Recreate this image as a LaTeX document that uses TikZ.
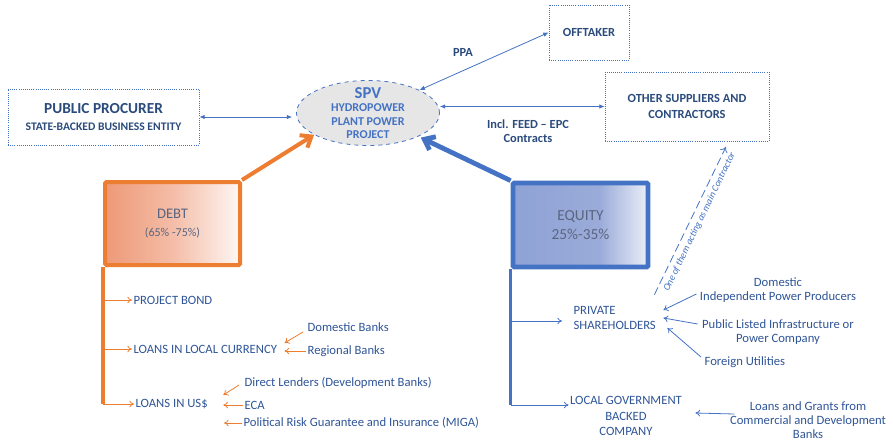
\documentclass[tikz,border=0pt]{standalone}
\usepackage{fontspec}
\setmainfont{Carlito}
\usetikzlibrary{arrows.meta,shapes.geometric,positioning,calc}
\definecolor{dblue}{HTML}{2A4B7C}
\definecolor{mblue}{HTML}{2F5597}
\definecolor{lblue}{HTML}{4472C4}
\definecolor{orng}{HTML}{ED7D31}
\definecolor{salmon}{HTML}{EE9977}
\definecolor{eqfill}{HTML}{8FA2D5}
\definecolor{spvgray}{HTML}{E7E6E6}
\definecolor{boxtxt}{HTML}{5A6580}
\def\px{0.75pt}
\newcommand{\fs}[1]{\fontsize{#1}{#1}\selectfont}
\pgfdeclarehorizontalshading{eqshade}{100bp}{color(0bp)=(eqfill); color(25bp)=(eqfill); color(57bp)=(eqfill!90!white); color(75bp)=(eqfill!18!white); color(100bp)=(eqfill!18!white)}
\pgfdeclarehorizontalshading{debtshade}{100bp}{color(0bp)=(salmon); color(25bp)=(salmon); color(50bp)=(salmon!65!white); color(75bp)=(salmon!8!white); color(100bp)=(salmon!8!white)}
\tikzset{
  partybox/.style={draw=lblue, densely dotted, line width=0.6pt, align=center, text=dblue, font=\bfseries\fs{9.3}, inner sep=0pt},
  sharebox/.style={line width=#1, rounded corners=1pt, align=center, text=boxtxt, minimum width=135*\px, inner sep=0pt},
  thinarrow/.style={draw=lblue, line width=0.6pt, {Latex[length=4pt,width=3.5pt]}-{Latex[length=4pt,width=3.5pt]}},
  subarrow/.style={line width=0.6pt, -{To[length=3.5pt,width=5pt]}},
  fatarrow/.style={line width=#1, -{Straight Barb[length=7pt,width=11pt]}},
  item/.style={text=mblue, font=\fs{9.5}, inner sep=1pt},
  deal/.style={text=dblue, font=\bfseries\fs{9.3}, align=center}
}
\begin{document}
\begin{tikzpicture}[x=0.75pt,y=-0.75pt]
	\useasboundingbox (0,0) rectangle (893,443);
	% parties round the SPV
	\node[partybox, minimum width=191*\px, minimum height=56*\px] (proc) at (103.5,117) {{\fs{11.5}PUBLIC PROCURER}\\[3pt]{\fs{8.7}STATE-BACKED BUSINESS ENTITY}};
	\node[partybox, minimum width=80*\px, minimum height=55*\px] (offt) at (589,32.5) {OFFTAKER};
	\node[partybox, minimum width=164*\px, minimum height=69*\px] (supp) at (687,106.5) {OTHER SUPPLIERS AND\\[2pt]CONTRACTORS};
	\node[ellipse, draw=lblue, dashed, line width=0.6pt, fill=spvgray, minimum width=143*\px, minimum height=65*\px, inner sep=0pt] (spv) at (368,113) {};
	\node[align=center, text=lblue, font=\bfseries\fs{9}] (spvlbl) at (368,113) {{\fs{12.5}SPV}\\[1pt]HYDROPOWER\\[1pt]PLANT POWER\\[1pt]PROJECT};
	\draw[thinarrow] (proc.east) -- ([xshift=-4*\px]proc.east -| spv.west);
	\draw[thinarrow] (spv.24) -- (offt.west);
	\draw[thinarrow] (spv.east |- supp.west) -- (supp.west);
	\node[deal] (ppa) at (463,52) {PPA};
	\node[deal] (epc) at (528,131) {Incl. FEED -- EPC\\[1pt]Contracts};
	% debt and equity
	\node[sharebox=3pt, draw=orng, shading=debtshade, minimum height=83*\px] (debt) at (172.5,223.5) {{\fs{11}DEBT}\\[2pt]{\fs{9}(65\% -75\%)}};
	\node[sharebox=3.6pt, draw=lblue, shading=eqshade, minimum height=84*\px] (eq) at (580.5,225) {{\fs{11.5}EQUITY}\\[2pt]{\fs{11.5}25\%-35\%}};
	\draw[fatarrow=3pt, orng] (debt.north east) -- (spv.202);
	\draw[fatarrow=3.6pt, lblue, shorten >=2pt] (eq.north west) -- (spv.335);
	% debt side
	\node[item, anchor=west] (bond) at (132,300) {PROJECT BOND};
	\node[item, anchor=west] (lcl) at (132,349) {LOANS IN LOCAL CURRENCY};
	\node[item, anchor=west] (usd) at (134,404) {LOANS IN US\$};
	\draw[orng, line width=2.6pt] (debt.south west) -- (debt.south west |- usd.west);
	\foreach \n in {bond,lcl,usd}
		\draw[subarrow, orng] (debt.south west |- \n.west) -- (\n.west);
	\node[item, anchor=west] (dom) at (306,327) {Domestic Banks};
	\node[item, anchor=west] (reg) at (306,351) {Regional Banks};
	\node[item, anchor=west] (dl) at (243,383) {Direct Lenders (Development Banks)};
	\node[item, anchor=west] (eca) at (243,405) {ECA};
	\node[item, anchor=west] (miga) at (242,423) {Political Risk Guarantee and Insurance (MIGA)};
	\draw[subarrow, orng] ($(dom.west)+(-3,5)$) -- ($(lcl.east)+(6,-6)$);
	\draw[subarrow, orng] (reg.west) -- ($(lcl.east)+(6,2)$);
	\draw[subarrow, orng] ($(dl.west)+(-4,2)$) -- ($(usd.east)+(14,-9)$);
	\draw[subarrow, orng] (eca.west) -- ($(usd.east)+(14,1)$);
	\draw[subarrow, orng] (miga.west) -- ($(miga.west)+(-18,0)$);
	% equity side
	\node[item, anchor=west, align=left] (priv) at (572,318) {PRIVATE\\[2pt]SHAREHOLDERS};
	\node[item, align=center] (gov) at (626,416) {LOCAL GOVERNMENT\\[2pt]BACKED\\[2pt]COMPANY};
	\draw[lblue, line width=2.8pt] (eq.south west) -- (eq.south west |- 0,405);
	\draw[subarrow, lblue] (eq.south west |- 0,321) -- (562,321);
	\draw[subarrow, lblue] (eq.south west |- 0,405) -- (gov.west |- 0,405);
	\node[item, align=center] (ipp) at (778,290) {Domestic\\[1pt]Independent Power Producers};
	\node[item, align=center] (plc) at (778,332) {Public Listed Infrastructure or\\[1pt]Power Company};
	\node[item, anchor=west] (fu) at (703,362) {Foreign Utilities};
	\node[item, align=center] (grant) at (808,420) {Loans and Grants from\\[1pt]Commercial and Development\\[1pt]Banks};
	\draw[subarrow, lblue] ($(ipp.west)+(-2,4)$) -- ($(priv.east)+(6,-8)$);
	\draw[subarrow, lblue] ($(plc.west)+(-3,-8)$) -- ($(priv.east)+(6,0)$);
	\draw[subarrow, lblue] ($(fu.west)+(-2,-5)$) -- ($(priv.east)+(10,10)$);
	\draw[subarrow, lblue] ($(grant.west)+(6,-6)$) -- ($(gov.east)+(12,-3)$);
	\draw[lblue, line width=0.6pt, dash pattern=on 6pt off 3pt, -{To[length=4pt,width=6pt]}, shorten >=6*\px] ($(priv.north east)+(-3,-10)$) -- (supp.-40) node[midway, sloped, below=0pt, text=lblue, font=\itshape\fs{7.3}] (mainlbl) {One of them acting as main Contractor};
\end{tikzpicture}
\end{document}
